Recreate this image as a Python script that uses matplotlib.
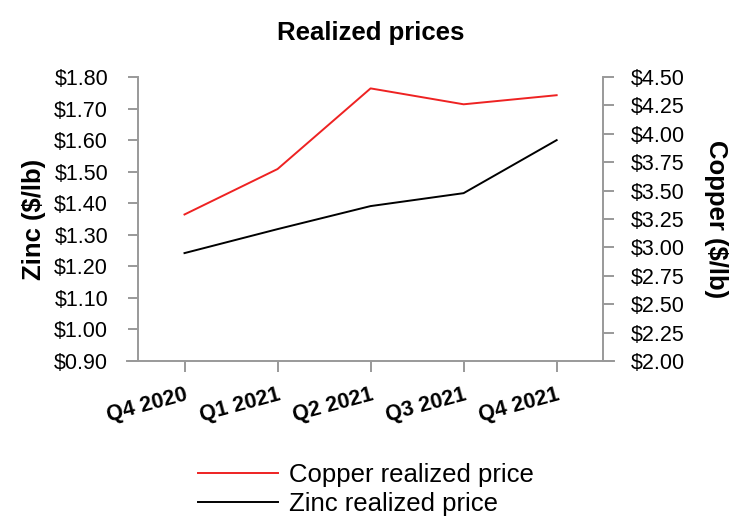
import matplotlib.pyplot as plt
from matplotlib.lines import Line2D

plt.rcParams['font.family'] = ['Liberation Sans', 'DejaVu Sans']

quarters = ["Q4 2020", "Q1 2021", "Q2 2021", "Q3 2021", "Q4 2021"]
zinc = [1.242, 1.318, 1.391, 1.432, 1.600]
copper = [3.29, 3.69, 4.40, 4.26, 4.34]

zinc_ticks = [0.90, 1.00, 1.10, 1.20, 1.30, 1.40, 1.50, 1.60, 1.70, 1.80]
copper_ticks = [2.00, 2.25, 2.50, 2.75, 3.00, 3.25, 3.50, 3.75, 4.00, 4.25, 4.50]

gray = "#999999"

fig = plt.figure(figsize=(7.32, 5.17), dpi=100)
ax = fig.add_axes([0.1885, 0.3017, 0.6355, 0.5493])
ax2 = ax.twinx()

x = range(len(quarters))
ax.plot(x, zinc, color="black", lw=1.4, zorder=3)
ax2.plot(x, copper, color="#ee2222", lw=1.4)

ax.set_xlim(-0.5, 4.5)
ax.set_ylim(0.90, 1.80)
ax2.set_ylim(2.00, 4.50)
ax.set_yticks(zinc_ticks)
ax.set_yticklabels(["${:.2f}".format(v) for v in zinc_ticks])
ax2.set_yticks(copper_ticks)
ax2.set_yticklabels(["${:.2f}".format(v) for v in copper_ticks])
ax.set_xticks(list(x))
ax.set_xticklabels(quarters, rotation=15, ha="right", rotation_mode="anchor",
                   fontweight="bold", fontsize=14.3)

for a in (ax, ax2):
    a.spines["top"].set_visible(False)
    for s in ("left", "right", "bottom"):
        a.spines[s].set_color(gray)
        a.spines[s].set_linewidth(1.4)
    a.tick_params(colors=gray, labelcolor="black", width=1.4, length=8, labelsize=15.5)
ax.spines["right"].set_visible(False)
ax2.spines["left"].set_visible(False)
ax2.spines["bottom"].set_visible(False)
ax.spines["bottom"].set_bounds(-0.62, 4.62)
ax.tick_params(axis="y", length=7.5, pad=14)
ax2.tick_params(axis="y", pad=12)
ax.tick_params(axis="x", length=8, pad=9)

ax.set_ylabel("Zinc ($/lb)", fontsize=18.5, fontweight="bold", labelpad=6)
ax2.set_ylabel("Copper ($/lb)", fontsize=18.5, fontweight="bold", rotation=270, labelpad=31)
ax.set_title("Realized prices", fontsize=18.5, fontweight="bold", pad=27)

handles = [Line2D([], [], color="#ee2222", lw=1.4), Line2D([], [], color="black", lw=1.4)]
fig.legend(handles, ["Copper realized price", "Zinc realized price"],
           loc="center", bbox_to_anchor=(0.5, 0.053), frameon=False, fontsize=18.5,
           handlelength=3.1, handletextpad=0.45, labelspacing=0.22)

fig.savefig("out.png", dpi=100)
